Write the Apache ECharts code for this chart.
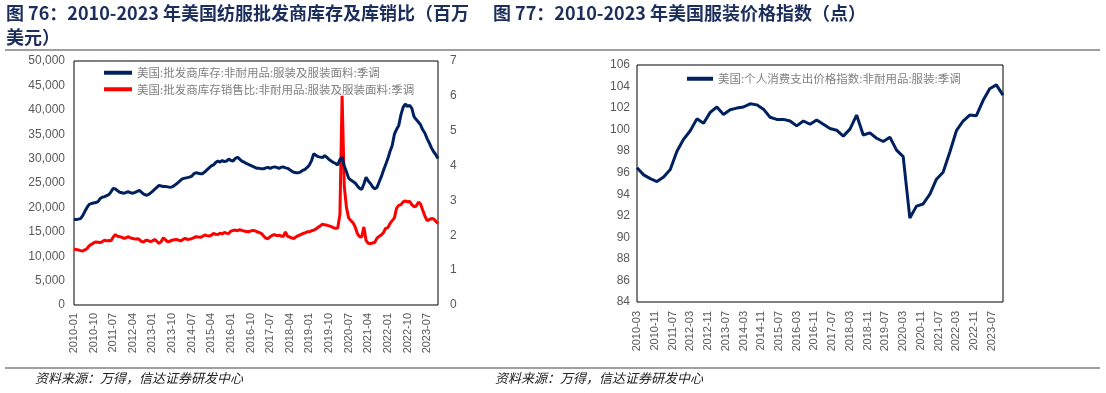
<!DOCTYPE html>
<html><head><meta charset="utf-8">
<script src="https://cdn.jsdelivr.net/npm/echarts@6/dist/echarts.min.js"></script>
<style>html,body{margin:0;padding:0;background:#fff}#c{width:1106px;height:393px}</style>
</head><body><div id="c"></div>
<script>
// ---------- data ----------
// Left chart: monthly 2010-01 .. 2023-12
const leftStart = [2010, 1];
const leftEnd = [2023, 12];
const inventory = [
  17600,17500,17600,17700,18300,19200,20000,20600,20800,20900,21000,21200,
  21800,22100,22200,22400,22600,23200,23900,23800,23400,23100,23000,22900,
  23100,23200,23000,22900,23100,23300,23500,23100,22700,22500,22600,22900,
  23300,23700,24100,24500,24400,24300,24300,24200,24100,24200,24500,24800,
  25200,25600,25900,26000,26100,26200,26400,26900,27100,27000,26900,26900,
  27300,27700,28100,28500,28700,29200,29500,29300,29600,29400,29500,29900,
  29600,29500,30000,30300,29900,29500,29300,29000,28800,28600,28400,28200,
  28000,28000,27900,27900,28100,28200,28000,28200,28300,28200,28000,28200,
  28300,28100,28000,27700,27400,27200,27100,27100,27300,27600,27800,28200,
  28700,29600,31000,30700,30400,30300,30200,30600,30300,29800,29500,29200,
  29000,28700,29800,30300,28500,27300,26000,25600,25300,25000,24400,23900,
  23700,24800,26200,25400,24900,24200,23800,24100,25200,26300,27600,28800,
  30000,31500,32700,35000,36000,36800,39000,40500,41200,40700,40900,40300,
  38600,38000,37500,36900,35900,35200,34100,33200,32200,31400,30800,30000
];
const ratio = [
  1.60,1.59,1.58,1.56,1.55,1.58,1.62,1.70,1.74,1.78,1.81,1.80,
  1.79,1.82,1.86,1.84,1.85,1.84,1.95,2.02,1.97,1.96,1.94,1.91,
  1.93,1.96,1.92,1.91,1.89,1.90,1.88,1.82,1.81,1.86,1.85,1.82,
  1.84,1.88,1.83,1.77,1.82,1.93,1.87,1.81,1.83,1.86,1.87,1.88,
  1.86,1.84,1.88,1.91,1.88,1.89,1.90,1.93,1.96,1.95,1.94,1.97,
  2.01,1.99,1.98,2.00,2.05,2.03,2.02,2.06,2.04,2.08,2.06,2.05,
  2.12,2.14,2.15,2.13,2.16,2.14,2.12,2.11,2.10,2.12,2.14,2.13,
  2.10,2.08,2.05,1.98,1.92,1.90,1.96,2.00,2.02,1.99,2.00,1.98,
  1.96,2.10,1.97,1.95,1.92,1.91,1.96,1.99,2.02,2.05,2.07,2.10,
  2.10,2.13,2.15,2.18,2.23,2.27,2.32,2.30,2.29,2.27,2.25,2.22,
  2.20,2.21,2.60,6.00,3.40,2.80,2.50,2.42,2.36,2.24,2.05,1.96,
  1.95,2.24,1.85,1.77,1.76,1.78,1.80,1.92,1.97,2.01,2.08,2.20,
  2.22,2.34,2.42,2.50,2.78,2.86,2.88,2.96,2.99,2.96,2.97,2.88,
  2.82,2.84,2.95,2.90,2.72,2.55,2.42,2.45,2.48,2.47,2.40,2.34
];
const leftTicksY = [0, 50000, 5000];
const rightTicksY = [0, 7, 1];

// Right chart: quarterly points on a monthly date axis 2010-03 .. 2023-12
const rightStart = [2010, 3];
const rightEnd = [2023, 12];
const priceDates = [
  '2010-03','2010-06','2010-09','2010-12','2011-03','2011-06','2011-09','2011-12',
  '2012-03','2012-06','2012-09','2012-12','2013-03','2013-06','2013-09','2013-12',
  '2014-03','2014-06','2014-09','2014-12','2015-03','2015-06','2015-09','2015-12',
  '2016-03','2016-06','2016-09','2016-12','2017-03','2017-06','2017-09','2017-12',
  '2018-03','2018-06','2018-09','2018-12','2019-03','2019-06','2019-09','2019-12',
  '2020-03','2020-06','2020-09','2020-12','2021-03','2021-06','2021-09','2021-12',
  '2022-03','2022-06','2022-09','2022-12','2023-03','2023-06','2023-09','2023-12'
];
const priceIndex = [
  96.46,95.8,95.45,95.18,95.6,96.3,98.0,99.1,
  99.9,101.0,100.6,101.6,102.1,101.4,101.85,102.0,
  102.1,102.4,102.3,101.9,101.15,100.95,100.95,100.8,
  100.35,100.8,100.5,100.9,100.5,100.1,99.95,99.4,
  100.05,101.35,99.5,99.7,99.2,98.9,99.3,98.1,
  97.5,91.8,92.9,93.1,94.0,95.4,96.05,97.9,
  99.9,100.8,101.35,101.3,102.7,103.8,104.15,103.2
];
const priceTicksY = [84, 106, 2];

const nameInv = '美国:批发商库存:非耐用品:服装及服装面料:季调';
const nameRatio = '美国:批发商库存销售比:非耐用品:服装及服装面料:季调';
const namePrice = '美国:个人消费支出价格指数:非耐用品:服装:季调';

function monthList(s, e) {
  const out = [];
  let y = s[0], m = s[1];
  while (y < e[0] || (y === e[0] && m <= e[1])) {
    out.push(y + '-' + (m < 10 ? '0' + m : m));
    m++; if (m > 12) { m = 1; y++; }
  }
  return out;
}
const leftCats = monthList(leftStart, leftEnd);
const rightCats = monthList(rightStart, rightEnd);

// ---------- chart ----------
const FONT = '"Noto Sans CJK SC", "Liberation Sans", sans-serif';
const TICK = '#595959';
const NAVY = '#002060';
const TITLE = '#1c2e5c';
const chart = echarts.init(document.getElementById('c'), null, { renderer: 'canvas' });

const xLabel = (interval, margin) => ({
  interval: interval, rotate: 90, color: TICK, fontSize: 11, fontFamily: 'Liberation Sans, Arial, sans-serif', margin: margin
});

chart.setOption({
  animation: false,
  textStyle: { fontFamily: FONT },
  graphic: [
    { type: 'text', left: 6, top: 4, style: { text: '图 76：2010-2023 年美国纺服批发商库存及库销比（百万', fill: TITLE, font: 'bold 18px ' + FONT } },
    { type: 'text', left: 6, top: 28, style: { text: '美元）', fill: TITLE, font: 'bold 18px ' + FONT } },
    { type: 'text', left: 493, top: 4, style: { text: '图 77：2010-2023 年美国服装价格指数（点）', fill: TITLE, font: 'bold 18px ' + FONT } },
    { type: 'line', shape: { x1: 5, y1: 50, x2: 1100, y2: 50 }, style: { stroke: '#808080', lineWidth: 1.6 } },
    { type: 'line', shape: { x1: 5, y1: 368, x2: 1100, y2: 368 }, style: { stroke: '#808080', lineWidth: 1.6 } },
    { type: 'text', left: 35, top: 372, style: { text: '资料来源：万得，信达证券研发中心', fill: '#222', font: 'italic 13px ' + FONT } },
    { type: 'text', left: 495, top: 372, style: { text: '资料来源：万得，信达证券研发中心', fill: '#222', font: 'italic 13px ' + FONT } }
  ],
  legend: [
    { orient: 'vertical', left: 99, top: 62, itemWidth: 28, itemHeight: 4, itemGap: 5, icon: 'rect',
      textStyle: { color: '#808080', fontSize: 11.5, fontFamily: FONT }, data: [nameInv, nameRatio] },
    { orient: 'vertical', left: 682, top: 68, itemWidth: 26, itemHeight: 4, icon: 'rect',
      textStyle: { color: '#808080', fontSize: 11.5, fontFamily: FONT }, data: [namePrice] }
  ],
  grid: [
    { left: 74, top: 61, width: 364, height: 244, show: true, borderColor: '#000', borderWidth: 1, backgroundColor: 'transparent' },
    { left: 637, top: 65, width: 366, height: 237, show: true, borderColor: '#000', borderWidth: 1, backgroundColor: 'transparent' }
  ],
  xAxis: [
    { type: 'category', gridIndex: 0, data: leftCats, boundaryGap: false,
      axisLine: { show: false }, axisTick: { show: false }, splitLine: { show: false },
      axisLabel: xLabel(8, 8) },
    { type: 'category', gridIndex: 1, data: rightCats, boundaryGap: false,
      axisLine: { show: false }, axisTick: { show: false }, splitLine: { show: false },
      axisLabel: xLabel(7, 9) }
  ],
  yAxis: [
    { type: 'value', gridIndex: 0, min: leftTicksY[0], max: leftTicksY[1], interval: leftTicksY[2],
      axisLine: { show: false }, axisTick: { show: false }, splitLine: { show: false },
      axisLabel: { color: TICK, fontSize: 12, margin: 9, fontFamily: 'Liberation Sans, Arial, sans-serif',
        formatter: v => v.toLocaleString('en-US') } },
    { type: 'value', gridIndex: 0, position: 'right', min: rightTicksY[0], max: rightTicksY[1], interval: rightTicksY[2],
      axisLine: { show: false }, axisTick: { show: false }, splitLine: { show: false },
      axisLabel: { color: TICK, fontSize: 12, margin: 12, fontFamily: 'Liberation Sans, Arial, sans-serif' } },
    { type: 'value', gridIndex: 1, min: priceTicksY[0], max: priceTicksY[1], interval: priceTicksY[2],
      axisLine: { show: false }, axisTick: { show: false }, splitLine: { show: false },
      axisLabel: { color: TICK, fontSize: 12, margin: 7, fontFamily: 'Liberation Sans, Arial, sans-serif' } }
  ],
  series: [
    { name: nameInv, type: 'line', xAxisIndex: 0, yAxisIndex: 0, data: inventory, showSymbol: false, symbol: 'none',
      lineStyle: { color: NAVY, width: 3 }, itemStyle: { color: NAVY }, z: 3 },
    { name: nameRatio, type: 'line', xAxisIndex: 0, yAxisIndex: 1, data: ratio, showSymbol: false, symbol: 'none',
      lineStyle: { color: '#FF0000', width: 3 }, itemStyle: { color: '#FF0000' }, z: 2 },
    { name: namePrice, type: 'line', xAxisIndex: 1, yAxisIndex: 2,
      data: priceDates.map((d, i) => [d, priceIndex[i]]), showSymbol: false, symbol: 'none',
      lineStyle: { color: NAVY, width: 3 }, itemStyle: { color: NAVY } }
  ]
});
</script></body></html>
